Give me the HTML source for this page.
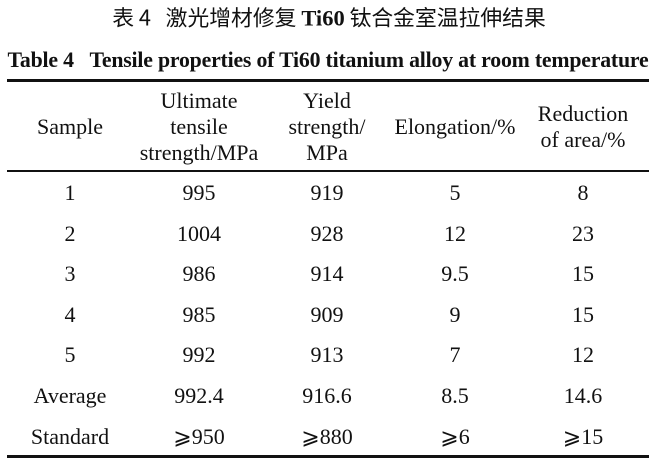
<!DOCTYPE html>
<html><head><meta charset="utf-8"><style>
body{margin:0;background:#fff;}
#c{position:relative;width:656px;height:463px;overflow:hidden;font-family:"Liberation Serif","Noto Serif CJK SC",serif;color:#111;}
.t{position:absolute;white-space:nowrap;transform:translate(-50%,-50%);font-size:22px;line-height:26px;text-align:center;}
.l{position:absolute;left:7px;width:642px;background:#111;}
</style></head><body><div id="c">
<div class="t" style="left:329px;top:18px;font-family:'Noto Sans CJK SC',sans-serif;font-size:21.8px;">表 4&nbsp;&nbsp;&nbsp;激光增材修复 <b style="font-family:'Liberation Serif',serif;font-size:22.5px">Ti60</b> 钛合金室温拉伸结果</div>
<div class="t" style="left:328px;top:60px;font-weight:bold;font-size:21.8px;letter-spacing:-0.2px">Table 4&nbsp;&nbsp;&nbsp;Tensile properties of Ti60 titanium alloy at room temperature</div>
<div class="l" style="top:79px;height:3px"></div>
<div class="l" style="top:170px;height:2px"></div>
<div class="l" style="top:455px;height:3px"></div>
<div class="t" style="left:70px;top:127px">Sample</div>
<div class="t" style="left:199px;top:127px">Ultimate<br>tensile<br>strength/MPa</div>
<div class="t" style="left:327px;top:127px">Yield<br>strength/<br>MPa</div>
<div class="t" style="left:455px;top:127px">Elongation/%</div>
<div class="t" style="left:583px;top:127px">Reduction<br>of area/%</div>
<div class="t" style="left:70px;top:193px">1</div><div class="t" style="left:199px;top:193px">995</div><div class="t" style="left:327px;top:193px">919</div><div class="t" style="left:455px;top:193px">5</div><div class="t" style="left:583px;top:193px">8</div>
<div class="t" style="left:70px;top:234px">2</div><div class="t" style="left:199px;top:234px">1004</div><div class="t" style="left:327px;top:234px">928</div><div class="t" style="left:455px;top:234px">12</div><div class="t" style="left:583px;top:234px">23</div>
<div class="t" style="left:70px;top:274px">3</div><div class="t" style="left:199px;top:274px">986</div><div class="t" style="left:327px;top:274px">914</div><div class="t" style="left:455px;top:274px">9.5</div><div class="t" style="left:583px;top:274px">15</div>
<div class="t" style="left:70px;top:315px">4</div><div class="t" style="left:199px;top:315px">985</div><div class="t" style="left:327px;top:315px">909</div><div class="t" style="left:455px;top:315px">9</div><div class="t" style="left:583px;top:315px">15</div>
<div class="t" style="left:70px;top:355px">5</div><div class="t" style="left:199px;top:355px">992</div><div class="t" style="left:327px;top:355px">913</div><div class="t" style="left:455px;top:355px">7</div><div class="t" style="left:583px;top:355px">12</div>
<div class="t" style="left:70px;top:396px">Average</div><div class="t" style="left:199px;top:396px">992.4</div><div class="t" style="left:327px;top:396px">916.6</div><div class="t" style="left:455px;top:396px">8.5</div><div class="t" style="left:583px;top:396px">14.6</div>
<div class="t" style="left:70px;top:437px">Standard</div><div class="t" style="left:199px;top:437px">⩾950</div><div class="t" style="left:327px;top:437px">⩾880</div><div class="t" style="left:455px;top:437px">⩾6</div><div class="t" style="left:583px;top:437px">⩾15</div>
</div></body></html>
